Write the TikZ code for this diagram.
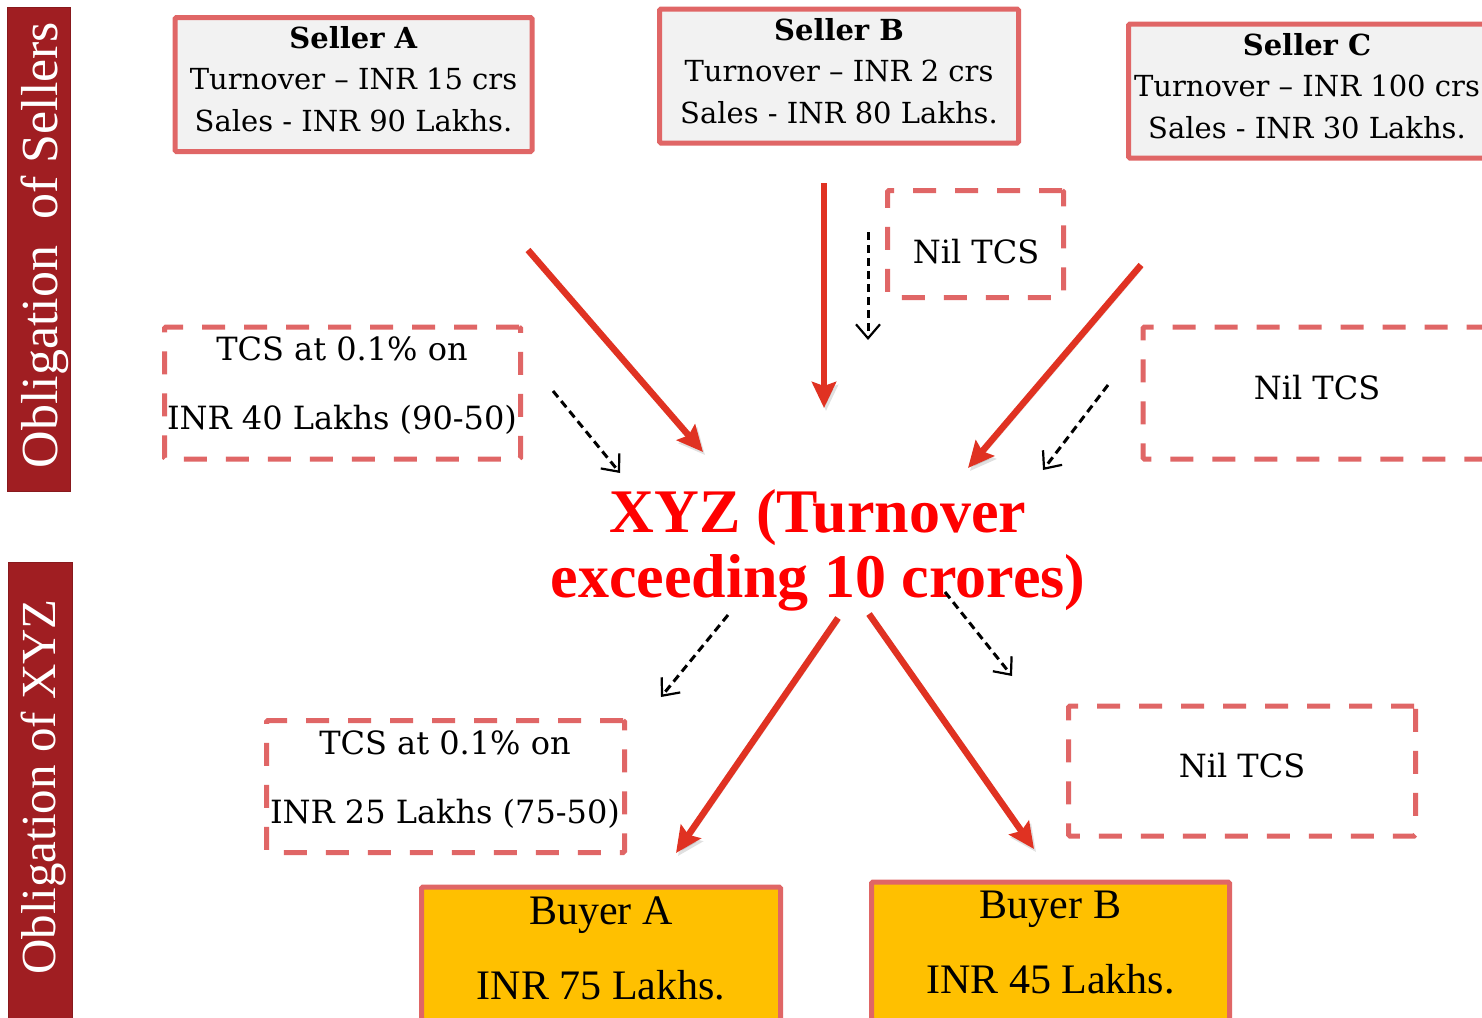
\documentclass[tikz,border=0pt]{standalone}
\usepackage{fontspec}
\setmainfont{DejaVu Serif}
\newfontfamily\tnr{Liberation Serif}
\usetikzlibrary{arrows.meta}
\definecolor{barred}{RGB}{160,30,34}
\definecolor{boxline}{RGB}{224,102,102}
\definecolor{sellerfill}{RGB}{242,242,242}
\definecolor{buyerfill}{RGB}{255,192,0}
\definecolor{arrowred}{RGB}{224,50,34}
\definecolor{xyzred}{RGB}{255,0,0}
\begin{document}
\begin{tikzpicture}[x=1pt,y=-1pt,
 sidebar/.style={fill=barred, draw=barred!85!black, line width=1pt},
 sidetext/.style={text=white, rotate=90, inner sep=0pt},
 sellerbox/.style={draw=boxline, line width=5pt, fill=sellerfill, rounded corners=1.5pt, minimum width=357pt, minimum height=134pt, inner sep=0pt},
 sellertext/.style={align=center, inner sep=0pt, font=\fontsize{29}{41.5}\selectfont},
 tcsbox/.style={draw=boxline, line width=5pt, dash pattern=on 23pt off 19pt, rounded corners=1.5pt, minimum height=132pt, inner sep=0pt},
 tcstext/.style={align=center, inner sep=0pt, font=\fontsize{32}{69}\selectfont},
 buyerbox/.style={draw=boxline, line width=5pt, fill=buyerfill, rounded corners=1.5pt, minimum width=359pt, minimum height=170pt, anchor=north, inner sep=0pt},
 buyertext/.style={align=center, inner sep=0pt, font=\tnr\fontsize{42}{75}\selectfont},
 bigarrow/.style={draw=arrowred, line width=6.5pt, -{Stealth[length=26pt,width=24pt,inset=4pt]},
   preaction={draw=black, opacity=0.12, transform canvas={shift={(2pt,-3pt)}}}},
 tcsarrow/.style={draw=black, line width=3pt, dash pattern=on 8pt off 5pt, -{Straight Barb[length=14pt,width=24pt,line width=2.2pt]}},
]
\clip (0,0) rectangle (1482,1017);
\fill[white] (0,0) rectangle (1482,1017);

% side bars
\node[sidebar, minimum width=63pt, minimum height=484pt, inner sep=0pt] (bar1) at (38.5,249) {};
\node[sidetext, font=\tnr\fontsize{52}{52}\selectfont] (bar1t) at (45,245) {Obligation~~of Sellers};
\node[sidebar, minimum width=64pt, minimum height=470pt, inner sep=0pt] (bar2) at (40,797) {};
\node[sidetext, font=\tnr\fontsize{49}{49}\selectfont] (bar2t) at (44,787) {Obligation of XYZ};

% sellers
\node[sellerbox] (sa) at (353.5,84.5) {};
\node[sellertext] (sat) at (353.5,79) {\textbf{Seller A}\\Turnover – INR 15 crs\\Sales - INR 90 Lakhs.};
\node[sellerbox, minimum width=359pt] (sb) at (839,76) {};
\node[sellertext] (sbt) at (839,71) {\textbf{Seller B}\\Turnover – INR 2 crs\\Sales - INR 80 Lakhs.};
\node[sellerbox, minimum width=357pt] (sc) at (1307,91) {};
\node[sellertext] (sct) at (1307,86) {\textbf{Seller C}\\Turnover – INR 100 crs\\Sales - INR 30 Lakhs.};

% dashed TCS boxes
\node[tcsbox, minimum width=176pt, minimum height=107pt] (n1) at (975.5,244) {};
\node[tcstext] (n1t) at (976,252) {Nil TCS};
\node[tcsbox, minimum width=356pt] (ta) at (342.5,393) {};
\node[tcstext] (tat) at (342,385.5) {TCS at 0.1\% on\\INR 40 Lakhs (90-50)};
\node[tcsbox, minimum width=348pt] (n2) at (1317,393) {};
\node[tcstext] (n2t) at (1317,388) {Nil TCS};
\node[tcsbox, minimum width=358pt] (tb) at (445.5,786.5) {};
\node[tcstext] (tbt) at (445,779.5) {TCS at 0.1\% on\\INR 25 Lakhs (75-50)};
\node[tcsbox, minimum width=347pt, minimum height=130pt] (n3) at (1242,771) {};
\node[tcstext] (n3t) at (1242,766) {Nil TCS};

% central
\node[align=center, inner sep=0pt, text=xyzred, font=\tnr\bfseries\fontsize{62}{65}\selectfont] (xyz) at (818,550) {XYZ (Turnover\\exceeding 10 crores)};

% buyers
\node[buyerbox] (ba) at (601,884.5) {};
\node[buyertext] (bat) at (601,948) {Buyer A\\INR 75 Lakhs.};
\node[buyerbox, minimum width=358pt] (bb) at (1050.5,879.5) {};
\node[buyertext] (bbt) at (1050.5,943) {Buyer B\\INR 45 Lakhs.};

% arrow end points
\coordinate (r1s) at (528,250); \coordinate (r1e) at (703,452);
\coordinate (r2s) at (824,183); \coordinate (r2e) at (824,408);
\coordinate (r3s) at (1141,265); \coordinate (r3e) at (968,468);
\coordinate (r4s) at (838,618); \coordinate (r4e) at (676,853);
\coordinate (r5s) at (869,614); \coordinate (r5e) at (1034,849);
\coordinate (d1s) at (553,391); \coordinate (d1e) at (620,473);
\coordinate (d2s) at (868,232); \coordinate (d2e) at (868,340);
\coordinate (d3s) at (1108,385); \coordinate (d3e) at (1043,470);
\coordinate (d4s) at (728,615); \coordinate (d4e) at (661,697);
\coordinate (d5s) at (945,592); \coordinate (d5e) at (1012,676);

\draw[bigarrow] (r1s) -- (r1e);
\draw[bigarrow] (r2s) -- (r2e);
\draw[bigarrow] (r3s) -- (r3e);
\draw[bigarrow] (r4s) -- (r4e);
\draw[bigarrow] (r5s) -- (r5e);
\draw[tcsarrow] (d1s) -- (d1e);
\draw[tcsarrow] (d2s) -- (d2e);
\draw[tcsarrow] (d3s) -- (d3e);
\draw[tcsarrow] (d4s) -- (d4e);
\draw[tcsarrow] (d5s) -- (d5e);
\end{tikzpicture}
\end{document}
